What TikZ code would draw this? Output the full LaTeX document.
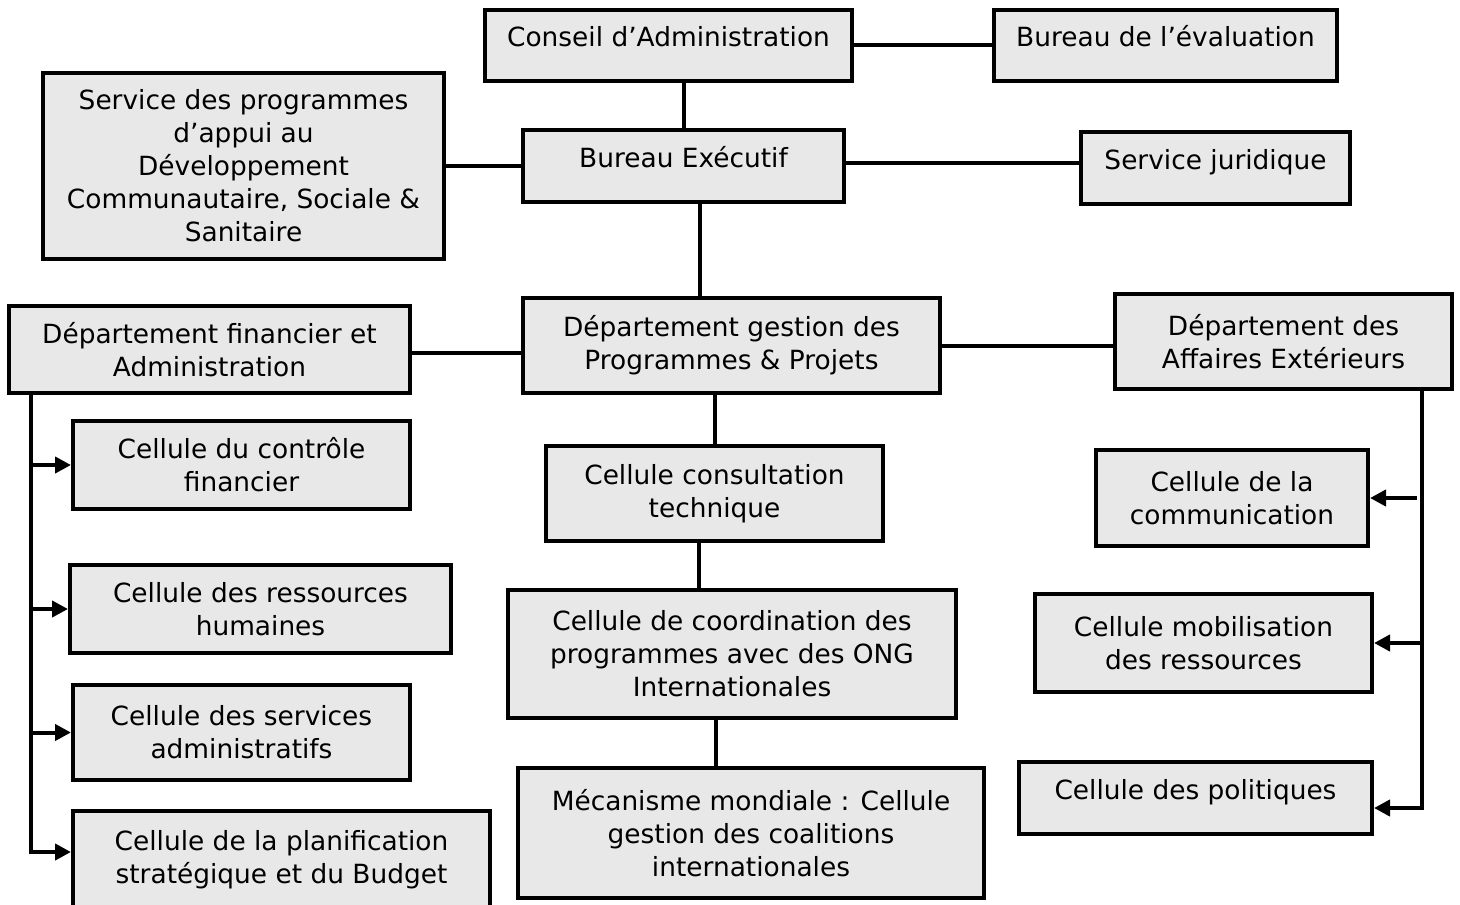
\documentclass[tikz,border=0pt]{standalone}
\usepackage{fontspec}
\setmainfont{DejaVu Sans}
\usepackage{tikz}
\usetikzlibrary{arrows.meta, positioning, calc}

\definecolor{boxgrey}{RGB}{232,232,232}
\tikzset{
  box/.style={draw, line width=2pt, fill=boxgrey, align=center, inner sep=2pt,
    font=\fontsize{13.2}{16.5}\selectfont},
  raisedtext/.style={text height=10pt, text depth=9pt},
  link/.style={line width=2pt},
  feed/.style={line width=2pt, -{Triangle[length=8pt,width=8pt]}}
}

\begin{document}
\begin{tikzpicture}[x=0.5pt, y=-0.5pt]
    \useasboundingbox (0,0) rectangle (1460,904);
    % Top: council and executive
    \node[box, raisedtext, minimum width=183.5pt, minimum height=35.5pt] (conseil) at (668.5,45.5) {Conseil d’Administration};
    \node[box, raisedtext, minimum width=171.5pt, minimum height=35.5pt] (eval) at (1165.5,45.5) {Bureau de l’évaluation};
    \node[box, minimum width=200.5pt, minimum height=93pt] (servprog) at (243.5,166) {Service des programmes\\d’appui au\\Développement\\Communautaire, Sociale \&\\Sanitaire};
    \node[box, raisedtext, minimum width=160.5pt, minimum height=36pt] (exec) at (683.5,166) {Bureau Exécutif};
    \node[box, raisedtext, minimum width=134.5pt, minimum height=36pt] (jur) at (1215.5,168) {Service juridique};
    % Departments
    \node[box, minimum width=200.5pt, minimum height=43.5pt] (fin) at (209.5,349.5) {Département financier et\\Administration};
    \node[box, minimum width=208.5pt, minimum height=47.5pt] (gest) at (731.5,345.5) {Département gestion des\\Programmes \& Projets};
    \node[box, minimum width=168.5pt, minimum height=47.5pt] (aff) at (1283.5,341.5) {Département des\\Affaires Extérieurs};
    % Left column
    \node[box, minimum width=168.5pt, minimum height=44pt] (ctrl) at (241.5,465) {Cellule du contrôle\\financier};
    \node[box, minimum width=190.5pt, minimum height=44pt] (rh) at (260.5,609) {Cellule des ressources\\humaines};
    \node[box, minimum width=168.5pt, minimum height=47.5pt] (adm) at (241.5,732.5) {Cellule des services\\administratifs};
    \node[box, minimum width=208.5pt, minimum height=49pt] (plan) at (281.5,860) {Cellule de la planification\\stratégique et du Budget};
    % Middle column
    \node[box, minimum width=168.5pt, minimum height=47.5pt] (consult) at (714.5,493.5) {Cellule consultation\\technique};
    \node[box, minimum width=224pt, minimum height=64pt] (coord) at (732,654) {Cellule de coordination des\\programmes avec des ONG\\Internationales};
    \node[box, minimum width=233pt, minimum height=65pt] (mec) at (751,833) {Mécanisme mondiale : Cellule\\gestion des coalitions\\internationales};
    % Right column
    \node[box, minimum width=136pt, minimum height=48pt] (comm) at (1232,498) {Cellule de la\\communication};
    \node[box, minimum width=168.5pt, minimum height=49pt] (mob) at (1203.5,643) {Cellule mobilisation\\des ressources};
    \node[box, raisedtext, minimum width=176.5pt, minimum height=36pt] (pol) at (1195.5,798) {Cellule des politiques};
    % Links
    \draw[link] (conseil.east) -- (eval.west);
    \draw[link] (exec.north) -- (exec.north |- conseil.south);
    \draw[link] (servprog.east) -- (exec.west);
    \draw[link] ([yshift=1.5pt]exec.east) -- ([yshift=1.5pt]exec.east -| jur.west);
    \draw[link] ([xshift=8pt]exec.south) -- ([xshift=8pt]exec.south |- gest.north);
    \draw[link] ([yshift=-1.75pt]fin.east) -- ([yshift=-1.75pt]fin.east -| gest.west);
    \draw[link] (gest.east) -- (gest.east -| aff.west);
    \draw[link] (consult.north) -- (consult.north |- gest.south);
    \draw[link] ([xshift=-8pt]consult.south) -- ([xshift=-8pt]consult.south |- coord.north);
    \draw[link] ([xshift=-8pt]coord.south) -- ([xshift=-8pt]coord.south |- mec.north);
    % Left bus
    \coordinate (lbus) at (31,393);
    \draw[feed] (lbus) |- ([yshift=4pt]plan.west);
    \draw[feed] (lbus |- ctrl.west) -- (ctrl.west);
    \draw[feed] (lbus |- rh.west) -- (rh.west);
    \draw[feed] (lbus |- adm.west) -- (adm.west);
    % Right bus
    \coordinate (rbus) at (1422,389);
    \draw[feed] (rbus) |- ([yshift=-5pt]pol.east);
    \draw[feed] ([xshift=-2.5pt]rbus |- comm.east) -- (comm.east);
    \draw[feed] (rbus |- mob.east) -- (mob.east);
\end{tikzpicture}
\end{document}
